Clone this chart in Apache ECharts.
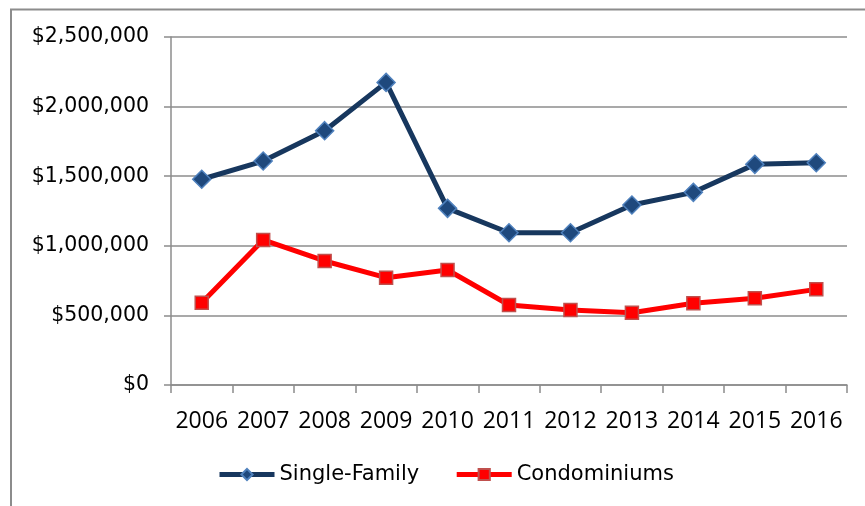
<!DOCTYPE html>
<html>
<head>
<meta charset="utf-8">
<script src="https://cdn.jsdelivr.net/npm/echarts@6/dist/echarts.min.js"></script>
<style>
html,body{margin:0;padding:0;background:#fff;}
#chart{width:865px;height:506px;}
</style>
</head>
<body>
<div id="chart"></div>
<script>
const years = ['2006','2007','2008','2009','2010','2011','2012','2013','2014','2015','2016'];
const singleFamily = [1478000, 1609000, 1827000, 2174000, 1269000, 1094000, 1094000, 1293000, 1384000, 1585000, 1597000];
const condominiums = [591000, 1042000, 891000, 771000, 826000, 575000, 539000, 519000, 587000, 623000, 687000];
const yTicks = [0, 500000, 1000000, 1500000, 2000000, 2500000];

const chart = echarts.init(document.getElementById('chart'), null, {renderer: 'canvas'});
const gray = '#8c8c8c';
chart.setOption({
  animation: false,
  backgroundColor: '#fff',
  graphic: [{
    type: 'rect', left: 8.5, top: 7, silent: true,
    shape: {x: 0, y: 0, width: 900, height: 600},
    style: {fill: 'none', stroke: gray, lineWidth: 2}
  }],
  grid: {left: 171, right: 18, top: 37, bottom: 121, containLabel: false},
  legend: {
    left: 217, top: 464, padding: 0,
    itemWidth: 55, itemHeight: 14, itemGap: 35,
    textStyle: {fontFamily: 'DejaVu Sans', fontSize: 21, color: '#000'},
    lineStyle: {width: 5},
    data: ['Single-Family', 'Condominiums']
  },
  xAxis: {
    type: 'category', data: years, boundaryGap: true,
    axisLine: {lineStyle: {color: gray, width: 1.5}},
    axisTick: {show: true, length: 8, lineStyle: {color: gray, width: 1.5}},
    axisLabel: {fontFamily: 'Open Sans', fontSize: 23, color: '#000', margin: 25, interval: 0},
    splitLine: {show: false}
  },
  yAxis: {
    type: 'value', min: yTicks[0], max: yTicks[yTicks.length - 1], interval: yTicks[1] - yTicks[0],
    axisLine: {show: true, lineStyle: {color: gray, width: 1.5}},
    axisTick: {show: true, length: 7, lineStyle: {color: gray, width: 1.5}},
    axisLabel: {
      fontFamily: 'DejaVu Sans', fontSize: 20.5, color: '#000', margin: 22,
      formatter: v => '$' + v.toLocaleString('en-US')
    },
    splitLine: {show: true, lineStyle: {color: gray, width: 1.5}}
  },
  series: [{
    name: 'Single-Family', type: 'line', data: singleFamily,
    symbol: 'diamond', symbolSize: 18,
    lineStyle: {color: '#17375e', width: 5},
    itemStyle: {color: '#1f497d', borderColor: '#4f81bd', borderWidth: 1.5},
    z: 3
  }, {
    name: 'Condominiums', type: 'line', data: condominiums,
    symbol: 'rect', symbolSize: 13,
    lineStyle: {color: '#ff0000', width: 5},
    itemStyle: {color: '#ff0000', borderColor: '#c0504d', borderWidth: 1.5},
    z: 2
  }]
});
</script>
</body>
</html>
